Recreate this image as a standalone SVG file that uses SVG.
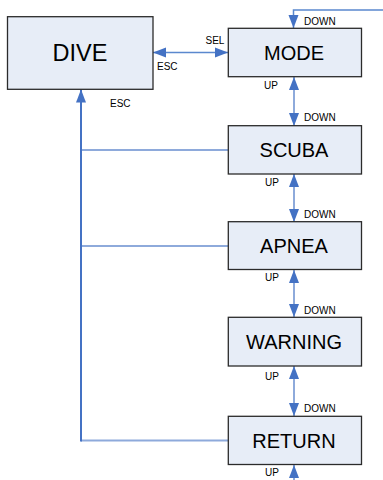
<svg xmlns="http://www.w3.org/2000/svg" width="383" height="480" viewBox="0 0 383 480">
<defs>
<style>
.box{fill:#E7EDF7;stroke:#2B2B2B;stroke-width:1.3}
.big{font-family:"Liberation Sans",Arial,sans-serif;font-size:20px;fill:#000;text-anchor:middle}
.lbl{font-family:"Liberation Sans",Arial,sans-serif;font-size:10px;fill:#000}
.lt{fill:none;stroke:#8EAADB;stroke-width:2}
.dk{fill:none;stroke:#4472C4;stroke-width:2}
.md{fill:none;stroke:#5A88CE;stroke-width:1.5}
</style>
<marker id="ah" markerUnits="userSpaceOnUse" markerWidth="14" markerHeight="12" refX="13" refY="5" orient="auto-start-reverse" viewBox="0 0 14 10">
<path d="M0,0 L13,5 L0,10 Z" fill="#4472C4"/>
</marker>
</defs>
<g id="connectors">
<polyline class="md" points="383,10 293.5,10 293.5,28" marker-end="url(#ah)"/>
<line class="md" x1="153" y1="52.5" x2="228" y2="52.5" marker-start="url(#ah)" marker-end="url(#ah)"/>
<line class="lt" x1="294" y1="77" x2="294" y2="126" marker-start="url(#ah)" marker-end="url(#ah)"/>
<line class="lt" x1="294" y1="174" x2="294" y2="222" marker-start="url(#ah)" marker-end="url(#ah)"/>
<line class="lt" x1="294" y1="270" x2="294" y2="317" marker-start="url(#ah)" marker-end="url(#ah)"/>
<line class="lt" x1="294" y1="366" x2="294" y2="416" marker-start="url(#ah)" marker-end="url(#ah)"/>
<line class="lt" x1="294" y1="482" x2="294" y2="465" marker-end="url(#ah)"/>
<line class="lt" x1="81" y1="150" x2="228" y2="150"/>
<line class="lt" x1="81" y1="246" x2="228" y2="246"/>
<line class="lt" x1="81" y1="440.5" x2="228" y2="440.5"/>
<line class="dk" x1="81" y1="441.5" x2="81" y2="89.5" marker-end="url(#ah)"/>
</g>
<g id="labels">
<text class="lbl" x="304" y="25">DOWN</text>
<text class="lbl" x="205.5" y="43.5">SEL</text>
<text class="lbl" x="157" y="69.5">ESC</text>
<text class="lbl" x="110" y="106.5">ESC</text>
<text class="lbl" x="264" y="89">UP</text>
<text class="lbl" x="304" y="121">DOWN</text>
<text class="lbl" x="265" y="186">UP</text>
<text class="lbl" x="304" y="217.5">DOWN</text>
<text class="lbl" x="265" y="281">UP</text>
<text class="lbl" x="304" y="314">DOWN</text>
<text class="lbl" x="265" y="379.5">UP</text>
<text class="lbl" x="304" y="411.5">DOWN</text>
<text class="lbl" x="265" y="476">UP</text>
</g>
<g id="dive">
<rect class="box" x="7.5" y="16.7" width="145.5" height="72.6"/>
<text class="big" x="80" y="61" style="font-size:23.5px">DIVE</text>
</g>
<g id="mode">
<rect class="box" x="228.3" y="28.3" width="133.2" height="48.4"/>
<text class="big" x="294" y="59.5">MODE</text>
</g>
<g id="scuba">
<rect class="box" x="228.3" y="125.7" width="133.2" height="48.3"/>
<text class="big" x="294" y="157">SCUBA</text>
</g>
<g id="apnea">
<rect class="box" x="228.3" y="221.7" width="133.2" height="47.8"/>
<text class="big" x="294" y="252.8">APNEA</text>
</g>
<g id="warning">
<rect class="box" x="228.3" y="317.3" width="133.2" height="48.7"/>
<text class="big" x="294" y="348.8">WARNING</text>
</g>
<g id="return">
<rect class="box" x="228.3" y="416.3" width="133.2" height="48.2"/>
<text class="big" x="294" y="447.5">RETURN</text>
</g>
</svg>
